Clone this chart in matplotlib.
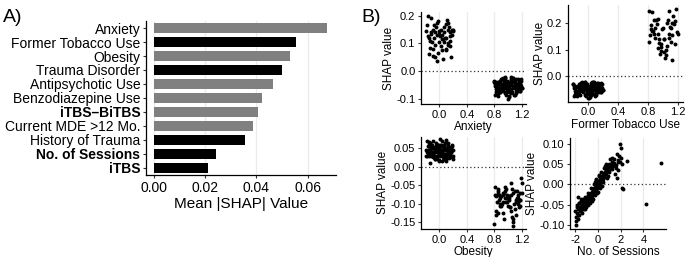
import matplotlib
matplotlib.use("Agg")
import matplotlib.pyplot as plt
from matplotlib.ticker import FuncFormatter

plt.rcParams['font.family'] = ['Liberation Sans', 'DejaVu Sans']

# ---- panel A: mean |SHAP| per feature (top to bottom)
features = ["Anxiety", "Former Tobacco Use", "Obesity", "Trauma Disorder",
            "Antipsychotic Use", "Benzodiazepine Use", "iTBS\u2013BiTBS",
            "Current MDE >12 Mo.", "History of Trauma", "No. of Sessions", "iTBS"]
mean_shap = [0.0675, 0.0556, 0.0530, 0.0500, 0.0466, 0.0423, 0.0406,
             0.0388, 0.0354, 0.0244, 0.0210]
dark_bar = [False, True, False, True, False, False, False, False, True, True, True]
bold_label = [False, False, False, False, False, False, True, False, False, True, True]

# ---- panel B: SHAP dependence, Anxiety
anx_x0 = [-0.17, -0.12, -0.08, -0.03, 0.02, 0.07, 0.11, 0.15, -0.19, -0.14,
          -0.06, -0.01, 0.04, 0.09, 0.13, 0.18, -0.16, -0.10, -0.05, 0.00,
          0.05, 0.10, 0.16, 0.19, -0.18, -0.13, -0.07, -0.02, 0.03, 0.08,
          0.12, 0.17, -0.15, -0.09, -0.04, 0.01, 0.06, 0.14, -0.11, -0.02,
          0.05, 0.12, 0.18, -0.17, -0.08, 0.03, 0.09, 0.15, -0.12, -0.04,
          0.07, 0.13, -0.06, 0.02, 0.10, 0.19, -0.14, 0.00, 0.16, -0.09]
anx_y0 = [0.200, 0.135, 0.120, 0.175, 0.150, 0.160, 0.185, 0.125, 0.145, 0.085,
          0.140, 0.105, 0.130, 0.170, 0.095, 0.150, 0.120, 0.055, 0.160, 0.135,
          0.115, 0.075, 0.110, 0.145, 0.165, 0.140, 0.095, 0.180, 0.075, 0.120,
          0.150, 0.050, 0.060, 0.150, 0.035, 0.125, 0.140, 0.160, 0.105, 0.065,
          0.045, 0.100, 0.130, 0.125, 0.165, 0.115, 0.080, 0.140, 0.190, 0.130,
          0.105, 0.175, 0.050, 0.090, 0.120, 0.150, 0.110, 0.145, 0.090, 0.080]
anx_x1 = [0.81, 0.93, 1.07, 1.18, 0.86, 0.99, 1.12, 0.84, 0.95, 1.03,
          1.16, 0.89, 1.01, 1.14, 0.82, 0.97, 1.09, 1.19, 0.88, 1.05,
          0.91, 1.11, 0.83, 1.00, 1.17, 0.94, 1.06, 0.87, 1.13, 0.80,
          0.98, 1.08, 1.20, 0.85, 1.02, 1.15, 0.90, 1.04, 0.92, 1.10,
          0.82, 0.96, 1.13, 1.19, 0.87, 1.01, 0.94, 1.07, 0.84, 1.17,
          0.99, 1.11, 0.89, 1.04, 0.81, 0.95, 1.08, 1.16, 0.91, 1.02,
          0.86, 1.14, 0.97, 1.06, 0.83, 1.18, 0.93, 1.09, 0.88, 1.00,
          1.12, 0.85, 0.98, 1.15, 0.90, 1.05, 0.80, 1.10, 0.96, 1.19,
          0.92, 1.03, 0.87, 1.13, 0.99, 1.07, 0.82, 1.16, 0.94, 1.01,
          0.89, 1.11, 0.84, 1.05, 0.97, 1.18, 0.86, 1.09, 0.91, 1.14,
          1.00, 0.83, 1.08, 0.95, 1.17, 0.88, 1.02, 0.81, 1.12, 0.93,
          1.06, 0.85, 1.15, 0.98, 1.20, 0.90, 1.04, 0.87, 1.10, 0.96]
anx_y1 = [-0.045, -0.060, -0.030, -0.070, -0.055, -0.035, -0.080, -0.065, -0.025, -0.050,
          -0.040, -0.075, -0.060, -0.030, -0.045, -0.085, -0.055, -0.035, -0.065, -0.020,
          -0.050, -0.070, -0.040, -0.060, -0.050, -0.030, -0.075, -0.045, -0.065, -0.035,
          -0.055, -0.025, -0.060, -0.080, -0.040, -0.070, -0.030, -0.050, -0.065, -0.045,
          -0.075, -0.035, -0.055, -0.030, -0.060, -0.090, -0.045, -0.025, -0.070, -0.050,
          -0.040, -0.065, -0.035, -0.080, -0.055, -0.045, -0.060, -0.040, -0.030, -0.070,
          -0.050, -0.060, -0.075, -0.040, -0.065, -0.045, -0.055, -0.085, -0.035, -0.050,
          -0.030, -0.070, -0.060, -0.050, -0.045, -0.065, -0.040, -0.035, -0.080, -0.055,
          -0.025, -0.050, -0.070, -0.045, -0.060, -0.030, -0.055, -0.065, -0.040, -0.075,
          -0.060, -0.045, -0.080, -0.035, -0.050, -0.070, -0.040, -0.055, -0.030, -0.065,
          -0.100, -0.050, -0.035, -0.060, -0.045, -0.075, -0.095, -0.085, -0.055, -0.070,
          -0.040, -0.090, -0.050, -0.065, -0.060, -0.045, -0.030, -0.075, -0.085, -0.020]

# ---- Former Tobacco Use
tob_x0 = [-0.19, -0.07, 0.06, 0.17, -0.14, -0.02, 0.11, -0.16, -0.04, 0.03,
          0.15, -0.11, 0.01, 0.13, -0.18, -0.03, 0.09, 0.19, -0.12, 0.05,
          -0.09, 0.10, -0.17, 0.00, 0.16, -0.06, 0.07, -0.13, 0.12, -0.20,
          -0.01, 0.08, 0.20, -0.15, 0.02, 0.14, -0.10, 0.04, -0.08, 0.11,
          -0.18, -0.05, 0.13, 0.18, -0.12, 0.01, -0.06, 0.07, -0.16, 0.17,
          -0.02, 0.10, -0.11, 0.04, -0.19, -0.05, 0.08, 0.15, -0.09, 0.02,
          -0.14, 0.14, -0.03, 0.06, -0.17, 0.18, -0.07, 0.09, -0.12, 0.00,
          0.12, -0.15, -0.02, 0.16, -0.10, 0.05, -0.20, 0.11, -0.04, 0.19,
          -0.08, 0.03, -0.13, 0.13, -0.01, 0.07, -0.18, 0.15, -0.06, 0.01,
          -0.11, 0.10, -0.16, 0.05, -0.03, 0.17, -0.14, 0.09, -0.09, 0.14,
          0.00, -0.17, 0.08, -0.05, 0.16, -0.12, 0.02, -0.19, 0.12, -0.07,
          0.06, -0.15, 0.18, -0.02, 0.20, -0.10, 0.04, -0.13, 0.11, -0.04]
tob_y0 = [-0.035, -0.050, -0.025, -0.060, -0.040, -0.030, -0.065, -0.055, -0.020, -0.045,
          -0.030, -0.070, -0.050, -0.025, -0.040, -0.075, -0.045, -0.030, -0.055, -0.020,
          -0.040, -0.060, -0.035, -0.050, -0.045, -0.025, -0.065, -0.040, -0.055, -0.030,
          -0.045, -0.020, -0.050, -0.070, -0.035, -0.060, -0.025, -0.045, -0.055, -0.040,
          -0.065, -0.030, -0.050, -0.025, -0.050, -0.080, -0.040, -0.020, -0.060, -0.045,
          -0.035, -0.055, -0.030, -0.070, -0.045, -0.040, -0.050, -0.035, -0.025, -0.060,
          -0.040, -0.050, -0.065, -0.035, -0.055, -0.040, -0.045, -0.075, -0.030, -0.045,
          -0.025, -0.060, -0.050, -0.040, -0.035, -0.055, -0.030, -0.030, -0.070, -0.045,
          -0.020, -0.040, -0.060, -0.035, -0.050, -0.025, -0.045, -0.055, -0.030, -0.065,
          -0.050, -0.035, -0.070, -0.030, -0.040, -0.060, -0.035, -0.045, -0.025, -0.055,
          -0.080, -0.045, -0.030, -0.050, -0.040, -0.065, -0.078, -0.072, -0.045, -0.060,
          -0.035, -0.075, -0.040, -0.055, -0.050, -0.040, -0.025, -0.065, -0.070, -0.020]
tob_x1 = [0.82, 0.86, 0.91, 0.95, 1.00, 1.04, 1.09, 1.13, 1.18, 0.84,
          0.88, 0.93, 0.97, 1.02, 1.06, 1.11, 1.15, 1.19, 0.81, 0.85,
          0.90, 0.94, 0.99, 1.03, 1.08, 1.12, 1.17, 0.83, 0.87, 0.92,
          0.96, 1.01, 1.05, 1.10, 1.14, 1.20, 0.89, 0.98, 1.07, 1.16,
          0.84, 0.93, 1.02, 1.11, 0.95, 1.04, 1.13, 0.88, 1.08, 0.97]
tob_y1 = [0.245, 0.170, 0.210, 0.140, 0.180, 0.100, 0.245, 0.155, 0.250, 0.190,
          0.160, 0.215, 0.120, 0.090, 0.200, 0.130, 0.195, 0.165, 0.130, 0.240,
          0.180, 0.105, 0.175, 0.070, 0.160, 0.060, 0.205, 0.155, 0.170, 0.195,
          0.085, 0.140, 0.115, 0.185, 0.225, 0.160, 0.145, 0.095, 0.210, 0.120,
          0.175, 0.160, 0.140, 0.180, 0.125, 0.080, 0.200, 0.210, 0.145, 0.110]

# ---- Obesity
ob_x0 = [-0.16, -0.04, 0.09, 0.18, -0.12, 0.01, 0.13, -0.19, -0.07, 0.05,
         0.16, -0.10, 0.03, 0.11, -0.17, -0.02, 0.08, 0.19, -0.13, 0.06,
         -0.08, 0.12, -0.15, -0.01, 0.15, -0.05, 0.07, -0.11, 0.14, -0.18,
         0.00, 0.10, 0.17, -0.14, 0.04, 0.13, -0.09, 0.02, -0.06, 0.12,
         -0.16, -0.03, 0.09, 0.18, -0.11, 0.00, -0.07, 0.06, -0.14, 0.16,
         -0.01, 0.11, -0.12, 0.03, -0.18, -0.04, 0.07, 0.14, -0.08, 0.01,
         -0.13, 0.15, -0.02, 0.05, -0.15, 0.17, -0.06, 0.10, -0.10, 0.02,
         0.12, -0.17, -0.03, 0.16, -0.09, 0.04, -0.19, 0.10, -0.05, 0.19,
         -0.07, 0.04, -0.12, 0.14, 0.00, 0.08, -0.16, 0.13, -0.04, 0.02,
         -0.10, 0.11, -0.15, 0.06, -0.02, 0.18, -0.13, 0.08, -0.08, 0.15,
         0.01, -0.17, 0.09, -0.06, 0.17, -0.11, 0.03, -0.18, 0.12, -0.05,
         0.07, -0.14, 0.16, -0.01, 0.19, -0.09, 0.05, -0.12, 0.10, -0.03,
         -0.08, 0.02, 0.12, -0.15, 0.06, -0.02, 0.14, -0.10, 0.08, 0.00]
ob_y0 = [0.035, 0.050, 0.025, 0.060, 0.040, 0.030, 0.065, 0.045, 0.020, 0.055,
         0.030, 0.070, 0.045, 0.025, 0.040, 0.060, 0.035, 0.030, 0.050, 0.020,
         0.040, 0.055, 0.030, 0.045, 0.035, 0.025, 0.060, 0.040, 0.050, 0.030,
         0.045, 0.020, 0.050, 0.065, 0.035, 0.055, 0.025, 0.045, 0.050, 0.040,
         0.060, 0.030, 0.045, 0.025, 0.050, 0.015, 0.040, 0.020, 0.055, 0.045,
         0.035, 0.050, 0.030, 0.070, 0.040, 0.040, 0.050, 0.035, 0.025, 0.060,
         0.040, 0.050, 0.060, 0.035, 0.045, 0.040, 0.045, 0.072, 0.030, 0.045,
         0.025, 0.055, 0.050, 0.040, 0.035, 0.055, 0.030, 0.030, 0.065, 0.045,
         0.020, 0.040, 0.055, 0.035, 0.050, 0.025, 0.045, 0.050, 0.030, 0.060,
         0.050, 0.035, 0.068, 0.030, 0.040, 0.055, 0.035, 0.045, 0.025, 0.050,
         0.075, 0.045, 0.030, 0.050, 0.040, 0.060, 0.015, 0.070, 0.045, 0.055,
         0.035, 0.010, 0.040, 0.055, 0.020, 0.040, 0.025, 0.060, 0.015, 0.020,
         0.028, 0.038, 0.048, 0.033, 0.058, 0.043, 0.023, 0.053, 0.063, 0.018]
ob_x1 = [0.81, 0.85, 0.89, 0.93, 0.97, 1.01, 1.05, 1.09, 1.13, 1.17,
         0.83, 0.87, 0.91, 0.95, 0.99, 1.03, 1.07, 1.11, 1.15, 1.19,
         0.82, 0.86, 0.90, 0.94, 0.98, 1.02, 1.06, 1.10, 1.14, 1.18,
         0.84, 0.88, 0.92, 0.96, 1.00, 1.04, 1.08, 1.12, 1.16, 1.20,
         0.80, 0.87, 0.94, 1.01, 1.08, 1.15, 0.83, 0.90, 0.97, 1.04,
         1.11, 1.18, 0.86, 0.93, 1.00, 1.07, 1.14, 0.81, 0.89, 0.96,
         1.03, 1.10, 1.17, 0.85, 0.92, 0.99, 1.06, 1.13, 1.20, 0.88]
ob_y1 = [-0.075, -0.060, -0.085, -0.070, -0.095, -0.080, -0.045, -0.100, -0.065, -0.090,
         -0.120, -0.075, -0.100, -0.055, -0.085, -0.110, -0.070, -0.130, -0.095, -0.030,
         -0.080, -0.065, -0.105, -0.140, -0.075, -0.090, -0.060, -0.115, -0.085, -0.070,
         -0.095, -0.080, -0.125, -0.065, -0.105, -0.075, -0.150, -0.095, -0.110, -0.045,
         -0.155, -0.090, -0.070, -0.085, -0.160, -0.100, -0.130, -0.080, -0.060, -0.120,
         -0.090, -0.105, -0.070, -0.095, -0.080, -0.140, -0.075, -0.055, -0.100, -0.085,
         -0.110, -0.065, -0.090, -0.125, -0.075, -0.095, -0.135, -0.085, -0.070, -0.105]

# ---- No. of Sessions (standardised)
ses_x = [-2.05, -1.98, -1.92, -1.90, -1.85, -1.80, -1.76, -1.71, -1.68, -1.62,
         -1.58, -1.55, -1.50, -1.46, -1.41, -1.38, -1.33, -1.30, -1.26, -1.21,
         -1.18, -1.14, -1.10, -1.06, -1.02, -0.98, -0.95, -0.91, -0.88, -0.84,
         -0.80, -0.77, -0.73, -0.70, -0.66, -0.63, -0.60, -0.56, -0.53, -0.50,
         -0.47, -0.44, -0.41, -0.38, -0.35, -0.32, -0.29, -0.26, -0.23, -0.20,
         -0.18, -0.15, -0.12, -0.10, -0.07, -0.05, -0.02, 0.00, 0.03, 0.05,
         0.08, 0.10, 0.13, 0.16, 0.19, 0.22, 0.25, 0.28, 0.31, 0.35,
         0.38, 0.42, 0.46, 0.50, 0.54, 0.58, 0.62, 0.67, 0.72, 0.77,
         0.82, 0.88, 0.94, 1.00, 1.06, 1.12, 1.20, 1.28, 1.36, 1.45,
         1.55, 1.65, 1.75, 1.85, 1.95, 2.05, 2.15, 2.60, 4.20, 5.60,
         -1.95, -1.83, -1.74, -1.65, -1.52, -1.44, -1.35, -1.24, -1.16, -1.08,
         -1.00, -0.93, -0.86, -0.79, -0.71, -0.64, -0.58, -0.51, -0.45, -0.39,
         -0.33, -0.27, -0.21, -0.16, -0.11, -0.06, -0.01, 0.04, 0.09, 0.14,
         0.20, 0.26, 0.33, 0.40, 0.48, 0.56, 0.65, 0.75, 0.86, 0.98,
         1.10, 1.24, 1.40, 1.58, 1.78, 1.92, 2.00, 2.10, 1.70, 2.20,
         -1.50, -1.20, -0.90, -0.75, -0.62, -0.48, -0.36, -0.24, -0.14, -0.04,
         0.06, 0.17, 0.29, 0.44, 0.60, 0.80, 1.02, -0.55, -0.30, -0.08,
         0.12, 0.36, 0.70, 0.90, 1.20, 1.50, -1.80, 1.80, 0.50, -0.20]
ses_y = [-0.065, -0.100, -0.080, -0.050, -0.070, -0.085, -0.060, -0.045, -0.075, -0.055,
         -0.065, -0.040, -0.060, -0.050, -0.070, -0.040, -0.055, -0.035, -0.060, -0.045,
         -0.030, -0.050, -0.040, -0.055, -0.035, -0.045, -0.030, -0.050, -0.035, -0.040,
         -0.025, -0.038, -0.030, -0.035, -0.022, -0.030, -0.025, -0.020, -0.028, -0.018,
         -0.022, -0.015, -0.020, -0.012, -0.018, -0.010, -0.015, -0.008, -0.012, -0.005,
         -0.010, -0.003, -0.008, 0.000, -0.005, 0.002, -0.002, 0.004, 0.000, 0.006,
         0.003, 0.008, 0.005, 0.012, 0.008, 0.015, 0.010, 0.018, 0.014, 0.020,
         0.016, 0.024, 0.020, 0.028, 0.022, 0.030, 0.026, 0.035, 0.028, 0.040,
         0.032, 0.045, 0.035, 0.050, 0.040, 0.048, 0.055, 0.045, 0.050, 0.062,
         0.048, 0.075, 0.055, 0.070, 0.100, 0.065, -0.010, 0.057, -0.047, 0.052,
         -0.090, -0.055, -0.075, -0.045, -0.065, -0.050, -0.042, -0.055, -0.038, -0.048,
         -0.032, -0.042, -0.028, -0.036, -0.024, -0.032, -0.020, -0.026, -0.016, -0.022,
         -0.012, -0.018, -0.008, -0.012, -0.004, -0.008, 0.000, -0.003, 0.005, 0.002,
         0.010, 0.006, 0.014, 0.012, 0.020, 0.018, 0.025, 0.032, 0.038, 0.030,
         0.045, 0.038, 0.052, 0.040, 0.060, 0.055, 0.090, 0.050, 0.015, -0.012,
         -0.035, -0.060, -0.020, -0.045, -0.010, -0.035, 0.000, -0.025, 0.012, -0.018,
         0.020, -0.008, 0.030, 0.005, 0.045, 0.015, 0.062, -0.040, 0.005, -0.020,
         0.022, -0.005, 0.050, 0.020, 0.065, 0.025, -0.030, 0.035, 0.040, 0.010]

GRID = "#ebebeb"


def hyphen_fmt(fmt):
    # plain ASCII hyphen for negatives, like the original
    return FuncFormatter(lambda v, p: fmt % v)


def style_axes(ax, fs):
    for s in ("top", "right"):
        ax.spines[s].set_visible(False)
    for s in ("left", "bottom"):
        ax.spines[s].set_linewidth(0.9)
    ax.tick_params(length=2.5, width=0.8, labelsize=fs, pad=1.5, color="#333333")
    ax.set_axisbelow(True)
    ax.grid(axis="x", color=GRID, lw=0.9)


fig = plt.figure(figsize=(6.85, 2.57), dpi=100)

# panel A
axA = fig.add_axes([0.213, 0.319, 0.277, 0.600])
ypos = list(range(len(features)))
colors = ["black" if d else "#808080" for d in dark_bar]
axA.barh(ypos, mean_shap, height=0.72, color=colors)
axA.set_ylim(10.52, -0.52)
axA.set_xlim(-0.0031, 0.0709)
axA.set_xticks([0.0, 0.02, 0.04, 0.06])
axA.xaxis.set_major_formatter(hyphen_fmt("%.2f"))
axA.set_yticks(ypos)
axA.set_yticklabels(features)
style_axes(axA, 10)
for lab, b in zip(axA.get_yticklabels(), bold_label):
    if b:
        lab.set_fontweight("bold")
axA.set_xlabel("Mean |SHAP| Value", fontsize=11, labelpad=2)
fig.text(0.005, 0.965, "A)", fontsize=14, va="top", ha="left")
fig.text(0.528, 0.965, "B)", fontsize=14, va="top", ha="left")

# panel B
panels = [
    ([0.6146, 0.595, 0.154, 0.358], [anx_x0, anx_x1], [anx_y0, anx_y1], "Anxiety",
     (-0.27, 1.27), (-0.119, 0.213), [-0.1, 0.0, 0.1, 0.2], "%.1f", [0.0, 0.4, 0.8, 1.2], "%.1f"),
    ([0.829, 0.604, 0.168, 0.376], [tob_x0, tob_x1], [tob_y0, tob_y1], "Former Tobacco Use",
     (-0.27, 1.27), (-0.095, 0.266), [0.0, 0.1, 0.2], "%.1f", [0.0, 0.4, 0.8, 1.2], "%.1f"),
    ([0.6146, 0.109, 0.154, 0.359], [ob_x0, ob_x1], [ob_y0, ob_y1], "Obesity",
     (-0.27, 1.27), (-0.168, 0.081), [-0.15, -0.10, -0.05, 0.0, 0.05], "%.2f", [0.0, 0.4, 0.8, 1.2], "%.1f"),
    ([0.832, 0.108, 0.140, 0.354], [ses_x], [ses_y], "No. of Sessions",
     (-2.49, 5.99), (-0.110, 0.113), [-0.10, -0.05, 0.0, 0.05, 0.10], "%.2f", [-2, 0, 2, 4], "%d"),
]

for rect, xs, ys, xlabel, xlim, ylim, yt, yf, xt, xf in panels:
    ax = fig.add_axes(rect)
    style_axes(ax, 8)
    ax.axhline(0, color="#333333", lw=0.9, ls=(0, (1, 2)), zorder=1)
    for x, y in zip(xs, ys):
        ax.scatter(x, y, s=8, color="black", linewidths=0, zorder=3)
    ax.set_xlim(*xlim)
    ax.set_ylim(*ylim)
    ax.set_xticks(xt)
    ax.set_yticks(yt)
    ax.xaxis.set_major_formatter(hyphen_fmt(xf))
    ax.yaxis.set_major_formatter(hyphen_fmt(yf))
    ax.set_xlabel(xlabel, fontsize=8.5, labelpad=1)
    ax.set_ylabel("SHAP value", fontsize=8.5, labelpad=1)

fig.savefig("out.png", dpi=100)
